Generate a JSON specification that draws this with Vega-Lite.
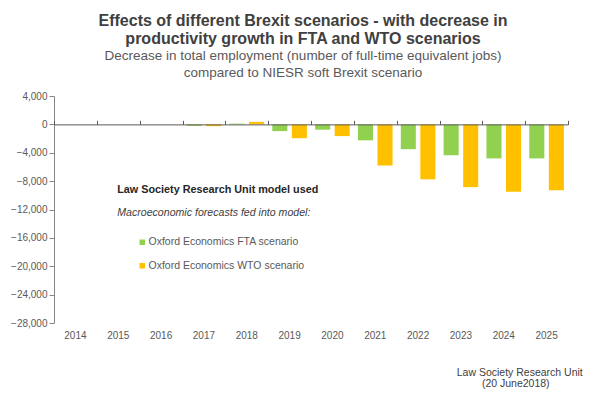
{
  "$schema": "https://vega.github.io/schema/vega-lite/v6.json",
  "width": 514,
  "height": 227,
  "autosize": "none",
  "padding": {"left": 54, "top": 96, "right": 38, "bottom": 76},
  "background": "white",
  "config": {"font": "Liberation Sans", "view": {"stroke": null}},
  "title": {
    "text": ["Effects of different Brexit scenarios - with decrease in", "productivity growth in FTA and WTO scenarios"],
    "subtitle": ["Decrease in total employment (number of full-time equivalent jobs)", "compared to NIESR  soft Brexit scenario"],
    "anchor": "middle",
    "dx": -8,
    "fontSize": 16,
    "fontWeight": "bold",
    "color": "#404040",
    "lineHeight": 18,
    "subtitleFontSize": 13.5,
    "subtitleColor": "#595959",
    "subtitleLineHeight": 17,
    "subtitlePadding": 2,
    "offset": 12
  },
  "layer": [
    {
      "data": {"values": [
        {"year": "2014", "scenario": "Oxford Economics FTA scenario", "jobs": 0},
        {"year": "2014", "scenario": "Oxford Economics WTO scenario", "jobs": 0},
        {"year": "2015", "scenario": "Oxford Economics FTA scenario", "jobs": 0},
        {"year": "2015", "scenario": "Oxford Economics WTO scenario", "jobs": 0},
        {"year": "2016", "scenario": "Oxford Economics FTA scenario", "jobs": 0},
        {"year": "2016", "scenario": "Oxford Economics WTO scenario", "jobs": 0},
        {"year": "2017", "scenario": "Oxford Economics FTA scenario", "jobs": -200},
        {"year": "2017", "scenario": "Oxford Economics WTO scenario", "jobs": -250},
        {"year": "2018", "scenario": "Oxford Economics FTA scenario", "jobs": 100},
        {"year": "2018", "scenario": "Oxford Economics WTO scenario", "jobs": 350},
        {"year": "2019", "scenario": "Oxford Economics FTA scenario", "jobs": -950},
        {"year": "2019", "scenario": "Oxford Economics WTO scenario", "jobs": -1950},
        {"year": "2020", "scenario": "Oxford Economics FTA scenario", "jobs": -750},
        {"year": "2020", "scenario": "Oxford Economics WTO scenario", "jobs": -1650},
        {"year": "2021", "scenario": "Oxford Economics FTA scenario", "jobs": -2250},
        {"year": "2021", "scenario": "Oxford Economics WTO scenario", "jobs": -5800},
        {"year": "2022", "scenario": "Oxford Economics FTA scenario", "jobs": -3500},
        {"year": "2022", "scenario": "Oxford Economics WTO scenario", "jobs": -7750},
        {"year": "2023", "scenario": "Oxford Economics FTA scenario", "jobs": -4350},
        {"year": "2023", "scenario": "Oxford Economics WTO scenario", "jobs": -8850},
        {"year": "2024", "scenario": "Oxford Economics FTA scenario", "jobs": -4800},
        {"year": "2024", "scenario": "Oxford Economics WTO scenario", "jobs": -9500},
        {"year": "2025", "scenario": "Oxford Economics FTA scenario", "jobs": -4800},
        {"year": "2025", "scenario": "Oxford Economics WTO scenario", "jobs": -9300}
      ]},
      "mark": {"type": "bar"},
      "encoding": {
        "x": {
          "field": "year", "type": "nominal",
          "scale": {"paddingInner": 0, "paddingOuter": 0},
          "axis": {"title": null, "labelAngle": 0, "domain": false, "ticks": false, "labelFontSize": 10, "labelColor": "#595959", "labelPadding": 7}
        },
        "xOffset": {"field": "scenario", "type": "nominal", "scale": {"paddingInner": 0.23, "paddingOuter": 0.21}},
        "y": {
          "field": "jobs", "type": "quantitative",
          "scale": {"domain": [-28000, 4000], "nice": false, "zero": false},
          "axis": {
            "title": null, "grid": false, "format": ",d",
            "values": [4000, 0, -4000, -8000, -12000, -16000, -20000, -24000, -28000],
            "labelOverlap": false, "labelSeparation": 0,
            "tickSize": 5, "tickColor": "#868686", "domainColor": "#868686",
            "labelFontSize": 10, "labelColor": "#595959", "labelPadding": 2
          }
        },
        "color": {
          "field": "scenario", "type": "nominal",
          "scale": {"domain": ["Oxford Economics FTA scenario", "Oxford Economics WTO scenario"], "range": ["#92D050", "#FFC000"]},
          "legend": {
            "title": null, "orient": "none", "legendX": 83, "legendY": 141,
            "symbolType": "square", "symbolSize": 30, "symbolStrokeWidth": 0,
            "labelFontSize": 10.5, "labelColor": "#595959", "labelOffset": 1,
            "rowPadding": 12.5, "padding": 0
          }
        }
      }
    },
    {
      "data": {"values": [{"t": "Law Society Research Unit model used"}]},
      "mark": {"type": "text", "align": "left", "baseline": "middle", "fontSize": 10.8, "fontWeight": "bold", "color": "#262626", "dx": -1},
      "encoding": {
        "x": {"datum": "2015", "type": "nominal", "axis": null},
        "y": {"datum": -9250, "type": "quantitative", "axis": null},
        "text": {"field": "t"}
      }
    },
    {
      "data": {"values": [{"t": "Macroeconomic forecasts fed into model:"}]},
      "mark": {"type": "text", "align": "left", "baseline": "middle", "fontSize": 10.6, "fontStyle": "italic", "color": "#404040", "dx": -1},
      "encoding": {
        "x": {"datum": "2015", "type": "nominal", "axis": null},
        "y": {"datum": -12500, "type": "quantitative", "axis": null},
        "text": {"field": "t"}
      }
    },
    {
      "data": {"values": [{"t": "Law Society Research Unit"}]},
      "mark": {"type": "text", "align": "center", "baseline": "middle", "fontSize": 10.5, "color": "#404040", "dx": 16},
      "encoding": {
        "x": {"datum": "2024", "type": "nominal", "axis": null},
        "y": {"datum": -35000, "type": "quantitative", "axis": null},
        "text": {"field": "t"}
      }
    },
    {
      "data": {"values": [{"t": "(20 June2018)"}]},
      "mark": {"type": "text", "align": "center", "baseline": "middle", "fontSize": 10.5, "color": "#404040", "dx": 12},
      "encoding": {
        "x": {
          "datum": "2024", "type": "nominal",
          "axis": {"title": null, "labels": false, "grid": false, "domainColor": "#595959", "tickColor": "#595959", "tickSize": 4, "tickBand": "extent", "offset": -28.375, "zindex": 1}
        },
        "y": {"datum": -36600, "type": "quantitative", "axis": null},
        "text": {"field": "t"}
      }
    }
  ],
  "resolve": {"axis": {"x": "independent", "y": "independent"}}
}
